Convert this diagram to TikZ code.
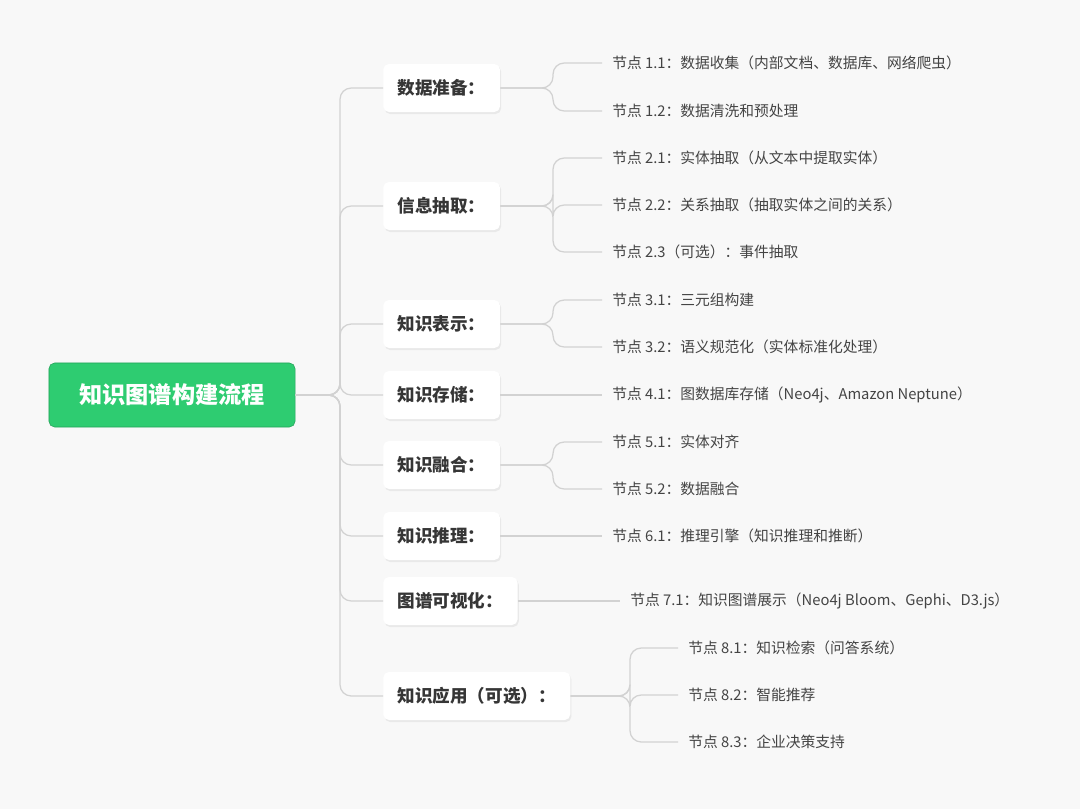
\documentclass[tikz,border=0pt]{standalone}
\usepackage{fontspec}
\setmainfont{Noto Sans CJK SC}
\usetikzlibrary{shadows}
\definecolor{bgc}{HTML}{F8F8F8}
\definecolor{rootc}{HTML}{2ECC71}
\definecolor{linec}{HTML}{D2D2D2}
\definecolor{txtc}{HTML}{444444}
\tikzset{
  rootbox/.style={draw=rootc!80!black, fill=rootc, rounded corners=4pt, text=white,
    font=\fontsize{16.5}{18}\selectfont\bfseries, minimum width=6.15cm, minimum height=1.6cm},
  branchbox/.style={anchor=west, fill=white, rounded corners=4pt, text=txtc!80!black,
    font=\fontsize{12.5}{14}\selectfont\bfseries, minimum height=1.2cm, inner xsep=0.36cm,
    drop shadow={opacity=0.12, shadow xshift=0.03cm, shadow yshift=-0.05cm}},
  leaf/.style={anchor=west, text=txtc, font=\fontsize{10.5}{12}\selectfont, inner xsep=0.25cm},
  conn/.style={draw=linec, line width=0.9pt, rounded corners=8pt}
}
\begin{document}
\begin{tikzpicture}[x=0.025cm, y=-0.025cm]
\fill[bgc] (0,0) rectangle (1080,809);
\useasboundingbox (0,0) rectangle (1080,809);

%%%%% ROOT AND BRANCHES %%%%%
\node[rootbox] (root) at (172,395) {知识图谱构建流程};
\node[branchbox] (b1) at (383,88) {数据准备：};
\node[branchbox] (b2) at (383,206) {信息抽取：};
\node[branchbox] (b3) at (383,324) {知识表示：};
\node[branchbox] (b4) at (383,395) {知识存储：};
\node[branchbox] (b5) at (383,465) {知识融合：};
\node[branchbox] (b6) at (383,536) {知识推理：};
\node[branchbox] (b7) at (383,601) {图谱可视化：};
\node[branchbox] (b8) at (383,696) {知识应用（可选）：};

%%%%% LEAVES %%%%%
\node[leaf] (l11) at (602,63) {节点 1.1：数据收集（内部文档、数据库、网络爬虫）};
\node[leaf] (l12) at (602,111) {节点 1.2：数据清洗和预处理};
\node[leaf] (l21) at (602,158) {节点 2.1：实体抽取（从文本中提取实体）};
\node[leaf] (l22) at (602,205) {节点 2.2：关系抽取（抽取实体之间的关系）};
\node[leaf] (l23) at (602,252) {节点 2.3（可选）：事件抽取};
\node[leaf] (l31) at (602,300) {节点 3.1：三元组构建};
\node[leaf] (l32) at (602,347) {节点 3.2：语义规范化（实体标准化处理）};
\node[leaf] (l41) at (602,395) {节点 4.1：图数据库存储（Neo4j、Amazon Neptune）};
\node[leaf] (l51) at (602,442) {节点 5.1：实体对齐};
\node[leaf] (l52) at (602,489) {节点 5.2：数据融合};
\node[leaf] (l61) at (602,536) {节点 6.1：推理引擎（知识推理和推断）};
\node[leaf] (l71) at (620,601) {节点 7.1：知识图谱展示（Neo4j Bloom、Gephi、D3.js）};
\node[leaf] (l81) at (678,648) {节点 8.1：知识检索（问答系统）};
\node[leaf] (l82) at (678,695) {节点 8.2：智能推荐};
\node[leaf] (l83) at (678,742) {节点 8.3：企业决策支持};

%%%%% CONNECTORS %%%%%
\begin{scope}[on background layer/.style={}]
\foreach \b in {b1,b2,b3,b4,b5,b6,b7,b8}
  \draw[conn] (root.east) -- (340,395) |- (\b.west);
\foreach \l in {l11,l12}
  \draw[conn] (b1.east) -- (553,88) |- (\l.west);
\foreach \l in {l21,l22,l23}
  \draw[conn] (b2.east) -- (553,206) |- (\l.west);
\foreach \l in {l31,l32}
  \draw[conn] (b3.east) -- (553,324) |- (\l.west);
\draw[conn] (b4.east) -- (l41.west);
\foreach \l in {l51,l52}
  \draw[conn] (b5.east) -- (553,465) |- (\l.west);
\draw[conn] (b6.east) -- (l61.west);
\draw[conn] (b7.east) -- (l71.west);
\foreach \l in {l81,l82,l83}
  \draw[conn] (b8.east) -- (630,696) |- (\l.west);
\end{scope}
\end{tikzpicture}
\end{document}
